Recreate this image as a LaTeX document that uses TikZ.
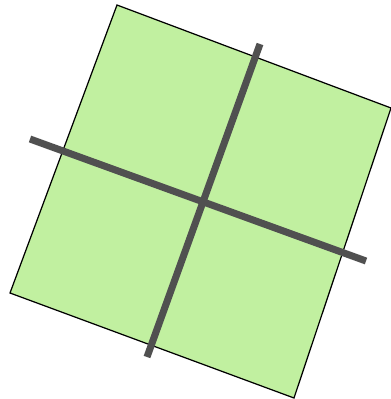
\documentclass[tikz,border=0pt]{standalone}
\usepackage{xcolor}
\definecolor{colTile}{RGB}{193,240,160}
\definecolor{colBar}{RGB}{80,80,80}
\usetikzlibrary{calc}

\begin{document}
\begin{tikzpicture}[x=0.02cm, y=-0.02cm]
	\useasboundingbox (0,0) rectangle (391,399);
	\clip (0,0) rectangle (391,399);
	% tilted tile
	\coordinate (top) at (117,5);
	\coordinate (rgt) at (391,108);
	\coordinate (bot) at (294,398);
	\coordinate (lft) at (10,293);
	\filldraw[fill=colTile, draw=black, line width=0.7pt] (top) -- (rgt) -- (bot) -- (lft) -- cycle;
	% cross bars
	\coordinate (hA) at (30,139);
	\coordinate (hB) at (366,261);
	\coordinate (vA) at (260,44);
	\coordinate (vB) at (147,357);
	\draw[colBar, line width=4pt] (hA) -- (hB);
	\draw[colBar, line width=4pt] (vA) -- (vB);
\end{tikzpicture}
\end{document}
